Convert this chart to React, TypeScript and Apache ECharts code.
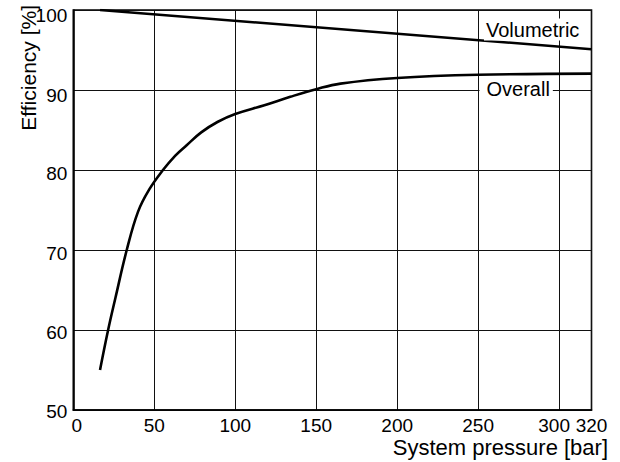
import React, { useEffect, useRef } from "react";
import * as echarts from "echarts";

// ---- data ----
const pressureMin = 0;
const pressureMax = 320;
const pressureStep = 50;
const efficiencyMin = 50;
const efficiencyMax = 100;
const efficiencyStep = 10;

const volumetricPressure = [16.5, 320];
const volumetricEfficiency = [100, 95.1];

const overallPressure = [16.5, 21.5, 26, 33, 40, 47, 55, 63, 70, 79, 89, 100, 118, 134, 150, 165, 200, 250, 320];
const overallEfficiency = [55, 60, 64, 70, 74.8, 77.6, 79.9, 81.8, 83.1, 84.7, 86.0, 87.0, 88.1, 89.15, 90.1, 90.8, 91.5, 91.9, 92.05];

const xAxisTitle = "System pressure [bar]";
const yAxisTitle = "Efficiency [%]";
const volumetricLabel = "Volumetric";
const overallLabel = "Overall";

const FONT = '"Liberation Sans", Arial, Helvetica, sans-serif';

export default function App() {
  const ref = useRef<HTMLDivElement>(null);

  useEffect(() => {
    if (!ref.current) return;
    const chart = echarts.init(ref.current, undefined, { renderer: "svg" });

    const zip = (xs: number[], ys: number[]) => xs.map((x, i) => [x, ys[i]]);

    const tickFont = { fontSize: 19, fontFamily: FONT, color: "#000" };
    const yRich: Record<string, any> = {
      y100: { ...tickFont, padding: [11, 0, 0, 0] },
      y90: { ...tickFont, padding: [10, 0, 0, 0] },
      y80: { ...tickFont, padding: [6, 0, 0, 0] },
      y70: { ...tickFont, padding: [7, 0, 0, 0] },
      y60: { ...tickFont, padding: [4, 0, 0, 0] },
      y50: { ...tickFont, padding: [2, 0, 0, 0] },
    };
    const xRich: Record<string, any> = {
      x0: { ...tickFont, padding: [0, 0, 0, 7] },
      x300: { ...tickFont, padding: [0, 10, 0, 0] },
      x320: { ...tickFont, padding: [0, 0, 0, 0] },
    };

    chart.setOption({
      animation: false,
      backgroundColor: "#fff",
      grid: {
        left: 73.3,
        top: 10,
        right: 28.5,
        bottom: 52,
        show: true,
        borderColor: "#000",
        borderWidth: 1.6,
        backgroundColor: "transparent",
      },
      xAxis: {
        type: "value",
        min: pressureMin,
        max: pressureMax,
        interval: pressureStep,
        axisLine: { show: true, lineStyle: { color: "#000", width: 1.6 } },
        axisTick: { show: false },
        splitLine: { show: true, lineStyle: { color: "#111", width: 1 } },
        axisLabel: {
          ...tickFont,
          margin: 6,
          showMinLabel: true,
          showMaxLabel: true,
          hideOverlap: false,
          formatter: (v: number) =>
            v === 0 || v === 300 || v === 320 ? `{x${v}|${v}}` : String(v),
          rich: xRich,
        },
      },
      yAxis: {
        type: "value",
        min: efficiencyMin,
        max: efficiencyMax,
        interval: efficiencyStep,
        axisLine: { show: true, lineStyle: { color: "#000", width: 1.6 } },
        axisTick: { show: false },
        splitLine: { show: true, lineStyle: { color: "#111", width: 1 } },
        axisLabel: {
          ...tickFont,
          margin: 6,
          formatter: (v: number) => `{y${v}|${v}}`,
          rich: yRich,
        },
      },
      series: [
        {
          name: volumetricLabel,
          type: "line",
          data: zip(volumetricPressure, volumetricEfficiency),
          showSymbol: false,
          lineStyle: { color: "#000", width: 2.6 },
          z: 5,
        },
        {
          name: overallLabel,
          type: "line",
          data: zip(overallPressure, overallEfficiency),
          showSymbol: false,
          smooth: 0.4,
          lineStyle: { color: "#000", width: 2.6 },
          z: 5,
        },
      ],
      graphic: [
        {
          type: "text",
          x: 484,
          y: 29.5,
          z: 100,
          style: {
            text: volumetricLabel,
            font: `20px ${FONT}`,
            fill: "#000",
            textAlign: "left",
            textVerticalAlign: "middle",
            backgroundColor: "#fff",
            padding: [1, 2, 1, 2],
          },
        },
        {
          type: "text",
          x: 479.5,
          y: 89,
          z: 100,
          style: {
            text: overallLabel,
            font: `20px ${FONT}`,
            fill: "#000",
            textAlign: "left",
            textVerticalAlign: "middle",
            backgroundColor: "#fff",
            padding: [1, 3, 1, 7],
          },
        },
        {
          type: "text",
          x: 28,
          y: 5,
          rotation: Math.PI / 2,
          z: 100,
          style: {
            text: yAxisTitle,
            font: `21px ${FONT}`,
            fill: "#000",
            textAlign: "right",
            textVerticalAlign: "middle",
          },
        },
        {
          type: "text",
          x: 608,
          y: 447,
          z: 100,
          style: {
            text: xAxisTitle,
            font: `22px ${FONT}`,
            lineHeight: 14,
            fill: "#000",
            textAlign: "right",
            textVerticalAlign: "middle",
          },
        },
      ],
    });

    return () => {
      chart.dispose();
    };
  }, []);

  return (
    <div
      ref={ref}
      style={{ position: "fixed", left: 0, top: 0, width: 620, height: 462 }}
    />
  );
}
